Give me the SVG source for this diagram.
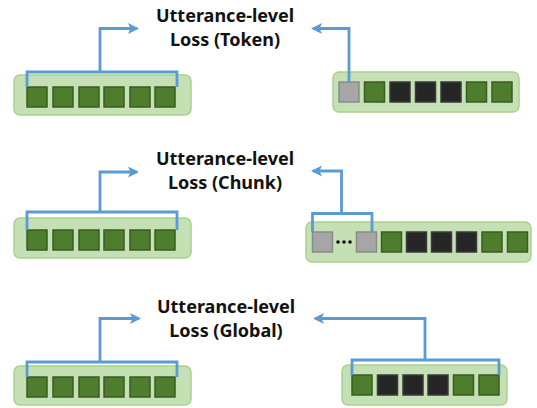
<svg xmlns="http://www.w3.org/2000/svg" width="537" height="408" viewBox="0 0 537 408">
  <style>
    .box { fill: #c5e0b4; stroke: #a9d18e; stroke-width: 1.5; }
    .g { fill: #4e7d2e; stroke: #3a5c22; stroke-width: 1.5; }
    .k { fill: #262626; stroke: #3a3a3a; stroke-width: 1.5; }
    .s { fill: #a6a6a6; stroke: #8a8a8a; stroke-width: 1.5; }
    .wire { fill: none; stroke: #5b9bd5; stroke-width: 2.8; stroke-linejoin: miter; }
    .lbl { font-family: "Noto Sans", "DejaVu Sans", sans-serif; font-weight: bold; font-size: 18px; fill: #111; text-anchor: middle; }
  </style>
  <defs>
    <marker id="ah" markerWidth="11" markerHeight="11" refX="9" refY="5.5" orient="auto" markerUnits="userSpaceOnUse">
      <path d="M0,0 L11,5.5 L0,11 L2.5,5.5 Z" fill="#5b9bd5"/>
    </marker>
  </defs>

  <!-- labels -->
  <g id="label-token">
    <text class="lbl" x="225" y="22">Utterance-level</text>
    <text class="lbl" x="225" y="46">Loss (Token)</text>
  </g>
  <g id="label-chunk">
    <text class="lbl" x="225" y="165">Utterance-level</text>
    <text class="lbl" x="225" y="189">Loss (Chunk)</text>
  </g>
  <g id="label-global">
    <text class="lbl" x="226" y="313">Utterance-level</text>
    <text class="lbl" x="226" y="337">Loss (Global)</text>
  </g>

  <!-- row 1: token -->
  <g id="seq-token-left">
    <rect class="box" x="14" y="75" width="177" height="40" rx="6"/>
    <rect class="g" x="27" y="87" width="20" height="20"/>
    <rect class="g" x="53" y="87" width="20" height="20"/>
    <rect class="g" x="79" y="87" width="20" height="20"/>
    <rect class="g" x="104" y="87" width="20" height="20"/>
    <rect class="g" x="130" y="87" width="20" height="20"/>
    <rect class="g" x="155" y="87" width="20" height="20"/>
  </g>
  <g id="seq-token-right">
    <rect class="box" x="333" y="72" width="186" height="40" rx="6"/>
    <rect class="s" x="339" y="82" width="20" height="20"/>
    <rect class="g" x="364.5" y="82" width="20" height="20"/>
    <rect class="k" x="390" y="82" width="20" height="20"/>
    <rect class="k" x="415.5" y="82" width="20" height="20"/>
    <rect class="k" x="441" y="82" width="20" height="20"/>
    <rect class="g" x="466.5" y="82" width="20" height="20"/>
    <rect class="g" x="492" y="82" width="20" height="20"/>
  </g>

  <!-- row 2: chunk -->
  <g id="seq-chunk-left">
    <rect class="box" x="14" y="218" width="177" height="40" rx="6"/>
    <rect class="g" x="27" y="230" width="20" height="20"/>
    <rect class="g" x="53" y="230" width="20" height="20"/>
    <rect class="g" x="79" y="230" width="20" height="20"/>
    <rect class="g" x="104" y="230" width="20" height="20"/>
    <rect class="g" x="130" y="230" width="20" height="20"/>
    <rect class="g" x="155" y="230" width="20" height="20"/>
  </g>
  <g id="seq-chunk-right">
    <rect class="box" x="306" y="222" width="225" height="40" rx="6"/>
    <rect class="s" x="312.5" y="232" width="20" height="20"/>
    <circle cx="338" cy="242" r="1.8" fill="#111"/>
    <circle cx="344" cy="242" r="1.8" fill="#111"/>
    <circle cx="350" cy="242" r="1.8" fill="#111"/>
    <rect class="s" x="356.5" y="232" width="20" height="20"/>
    <rect class="g" x="381.5" y="232" width="20" height="20"/>
    <rect class="k" x="406.5" y="232" width="20" height="20"/>
    <rect class="k" x="431.5" y="232" width="20" height="20"/>
    <rect class="k" x="456.5" y="232" width="20" height="20"/>
    <rect class="g" x="482" y="232" width="20" height="20"/>
    <rect class="g" x="507.5" y="232" width="20" height="20"/>
  </g>

  <!-- row 3: global -->
  <g id="seq-global-left">
    <rect class="box" x="14" y="366" width="177" height="39" rx="6"/>
    <rect class="g" x="27" y="377" width="20" height="20"/>
    <rect class="g" x="53" y="377" width="20" height="20"/>
    <rect class="g" x="79" y="377" width="20" height="20"/>
    <rect class="g" x="104" y="377" width="20" height="20"/>
    <rect class="g" x="130" y="377" width="20" height="20"/>
    <rect class="g" x="155" y="377" width="20" height="20"/>
  </g>
  <g id="seq-global-right">
    <rect class="box" x="342" y="365" width="165" height="40" rx="6"/>
    <rect class="g" x="352" y="375" width="20" height="20"/>
    <rect class="k" x="377.5" y="375" width="20" height="20"/>
    <rect class="k" x="403" y="375" width="20" height="20"/>
    <rect class="k" x="428" y="375" width="20" height="20"/>
    <rect class="g" x="453.5" y="375" width="20" height="20"/>
    <rect class="g" x="479" y="375" width="20" height="20"/>
  </g>

  <!-- brackets and arrows -->
  <g id="connectors">
    <path class="wire" d="M27,87 V72 H177 V87"/>
    <path class="wire" d="M100,72 V28.5 H137" marker-end="url(#ah)"/>
    <path class="wire" d="M349,82 V28.5 H313" marker-end="url(#ah)"/>

    <path class="wire" d="M27,230 V212 H177 V230"/>
    <path class="wire" d="M100,212 V172 H137" marker-end="url(#ah)"/>
    <path class="wire" d="M312.5,232 V213.5 H372 V232"/>
    <path class="wire" d="M341.5,213.5 V171 H313" marker-end="url(#ah)"/>

    <path class="wire" d="M27,377 V362 H177 V377"/>
    <path class="wire" d="M100,362 V318.5 H139" marker-end="url(#ah)"/>
    <path class="wire" d="M352,375 V360 H499 V375"/>
    <path class="wire" d="M425,360 V318.5 H315" marker-end="url(#ah)"/>
  </g>
</svg>
